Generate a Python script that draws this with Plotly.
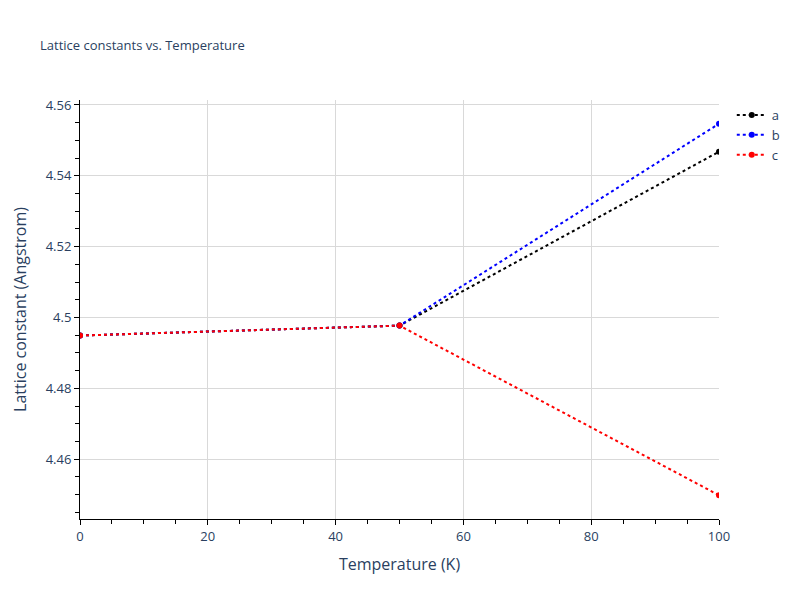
import plotly.graph_objects as go

temperature = [0, 50, 100]
a_vals = [4.4949, 4.4977, 4.5468]
b_vals = [4.4949, 4.4977, 4.5547]
c_vals = [4.4949, 4.4977, 4.4498]

series = [("a", a_vals, "black"), ("b", b_vals, "blue"), ("c", c_vals, "red")]

fig = go.Figure()
for name, vals, col in series:
    fig.add_trace(go.Scatter(x=temperature, y=vals, name=name, mode="lines+markers",
                             line=dict(color=col, dash="dot", width=2),
                             marker=dict(color=col, size=6)))

axis_common = dict(showline=True, linecolor="black", linewidth=1, ticks="outside",
                   tickcolor="black", ticklen=5, showgrid=True, gridcolor="#d9d9d9",
                   zeroline=False, tickfont=dict(size=13, color="#2a3f5f"))
fig.update_layout(
    width=800, height=600,
    template="plotly_white",
    title=dict(text="Lattice constants vs. Temperature", x=0.04, y=0.945, font=dict(size=13, color="#2a3f5f")),
    margin=dict(l=72, r=89, t=92, b=89),
    xaxis=dict(title=dict(text="Temperature (K)", font=dict(size=16)), range=[0, 100], dtick=20,
               minor=dict(dtick=5, ticks="outside", ticklen=4, tickcolor="black", showgrid=False),
               **axis_common),
    yaxis=dict(title=dict(text="Lattice constant (Angstrom)", font=dict(size=16)), range=[4.4431, 4.5614], dtick=0.02,
               minor=dict(dtick=0.005, ticks="outside", ticklen=4, tickcolor="black", showgrid=False),
               **axis_common),
    legend=dict(font=dict(size=13)),
    plot_bgcolor="white",
)
fig.write_html("out.html")
